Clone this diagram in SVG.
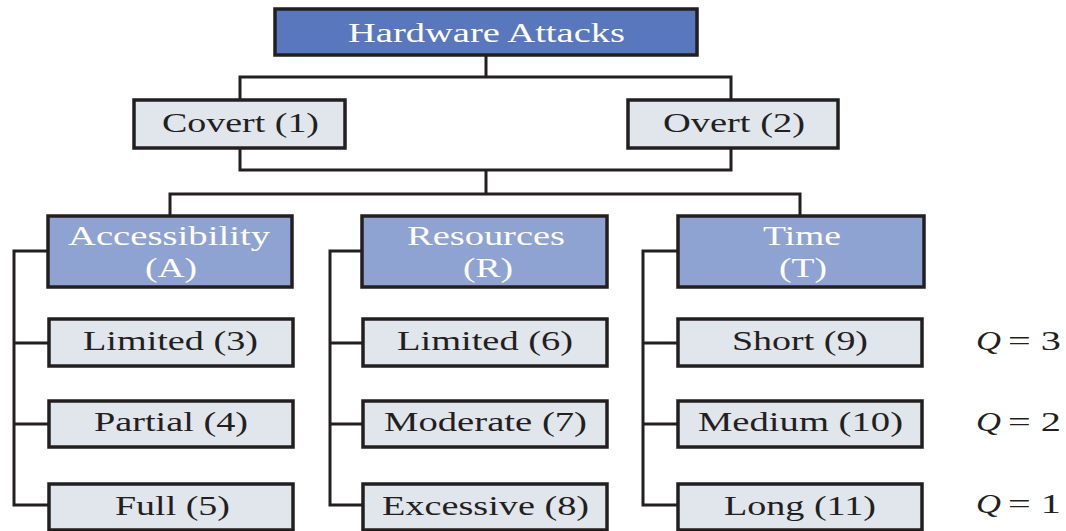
<svg xmlns="http://www.w3.org/2000/svg" width="1066" height="531" viewBox="0 0 1066 531">
<style>
.top{fill:#5877bd;stroke:#231f20;stroke-width:3.5}
.mid{fill:#8fa3d3;stroke:#231f20;stroke-width:3.5}
.leaf{fill:#e1e5ec;stroke:#231f20;stroke-width:3.5}
text{font-family:"Liberation Serif","Times New Roman",serif;font-size:28px}
.w{fill:#ffffff}
.d{fill:#231f20}
.q{font-style:italic}
#connectors path{fill:none;stroke:#231f20;stroke-width:3}
</style>
<rect width="1066" height="531" fill="#ffffff"/>
<g id="connectors">
<path d="M486,55 V77 M240,100 V77 H731 V100"/>
<path d="M240,148 V170 H731 V148 M486,170 V194 M170,216 V194 H800 V216"/>
<path d="M48,251 H14 V505 H49 M14,343 H49 M14,424 H49"/>
<path d="M362,251 H330 V505 H363 M330,343 H363 M330,424 H363"/>
<path d="M678,251 H643 V505 H678 M643,343 H678 M643,424 H678"/>
</g>
<g id="hardware"><rect class="top" x="275" y="9" width="422" height="46"/><text class="w" x="348" y="42" textLength="277" lengthAdjust="spacingAndGlyphs">Hardware Attacks</text></g>
<g id="covert"><rect class="leaf" x="134" y="100" width="211" height="48"/><text class="d" x="162" y="132" textLength="157" lengthAdjust="spacingAndGlyphs">Covert (1)</text></g>
<g id="overt"><rect class="leaf" x="628" y="100" width="210" height="48"/><text class="d" x="663" y="132" textLength="142" lengthAdjust="spacingAndGlyphs">Overt (2)</text></g>
<g id="accessibility"><rect class="mid" x="48" y="216" width="244" height="71"/><text class="w" x="68" y="245" textLength="202" lengthAdjust="spacingAndGlyphs">Accessibility</text><text class="w" x="145" y="277" textLength="52" lengthAdjust="spacingAndGlyphs">(A)</text></g>
<g id="resources"><rect class="mid" x="362" y="216" width="245" height="71"/><text class="w" x="407" y="245" textLength="158" lengthAdjust="spacingAndGlyphs">Resources</text><text class="w" x="463" y="277" textLength="50" lengthAdjust="spacingAndGlyphs">(R)</text></g>
<g id="time"><rect class="mid" x="678" y="216" width="246" height="71"/><text class="w" x="763" y="245" textLength="78" lengthAdjust="spacingAndGlyphs">Time</text><text class="w" x="779" y="277" textLength="48" lengthAdjust="spacingAndGlyphs">(T)</text></g>
<g id="limited3"><rect class="leaf" x="49" y="319" width="244" height="47"/><text class="d" x="83" y="350" textLength="175" lengthAdjust="spacingAndGlyphs">Limited (3)</text></g>
<g id="partial4"><rect class="leaf" x="49" y="401" width="244" height="46"/><text class="d" x="94" y="431" textLength="154" lengthAdjust="spacingAndGlyphs">Partial (4)</text></g>
<g id="full5"><rect class="leaf" x="49" y="484" width="244" height="46"/><text class="d" x="115" y="515" textLength="115" lengthAdjust="spacingAndGlyphs">Full (5)</text></g>
<g id="limited6"><rect class="leaf" x="363" y="319" width="244" height="47"/><text class="d" x="397" y="350" textLength="176" lengthAdjust="spacingAndGlyphs">Limited (6)</text></g>
<g id="moderate7"><rect class="leaf" x="363" y="401" width="244" height="46"/><text class="d" x="384" y="431" textLength="203" lengthAdjust="spacingAndGlyphs">Moderate (7)</text></g>
<g id="excessive8"><rect class="leaf" x="363" y="484" width="244" height="46"/><text class="d" x="382" y="515" textLength="207" lengthAdjust="spacingAndGlyphs">Excessive (8)</text></g>
<g id="short9"><rect class="leaf" x="678" y="319" width="244" height="47"/><text class="d" x="732" y="350" textLength="136" lengthAdjust="spacingAndGlyphs">Short (9)</text></g>
<g id="medium10"><rect class="leaf" x="678" y="401" width="244" height="46"/><text class="d" x="698" y="431" textLength="205" lengthAdjust="spacingAndGlyphs">Medium (10)</text></g>
<g id="long11"><rect class="leaf" x="678" y="484" width="244" height="46"/><text class="d" x="724" y="515" textLength="152" lengthAdjust="spacingAndGlyphs">Long (11)</text></g>
<g id="q-labels">
<text class="d q" x="976" y="350" textLength="25" lengthAdjust="spacingAndGlyphs">Q</text><text class="d" x="1008" y="350" textLength="53" lengthAdjust="spacingAndGlyphs">= 3</text>
<text class="d q" x="976" y="431" textLength="25" lengthAdjust="spacingAndGlyphs">Q</text><text class="d" x="1008" y="431" textLength="53" lengthAdjust="spacingAndGlyphs">= 2</text>
<text class="d q" x="976" y="513" textLength="25" lengthAdjust="spacingAndGlyphs">Q</text><text class="d" x="1008" y="513" textLength="53" lengthAdjust="spacingAndGlyphs">= 1</text>
</g>
</svg>
